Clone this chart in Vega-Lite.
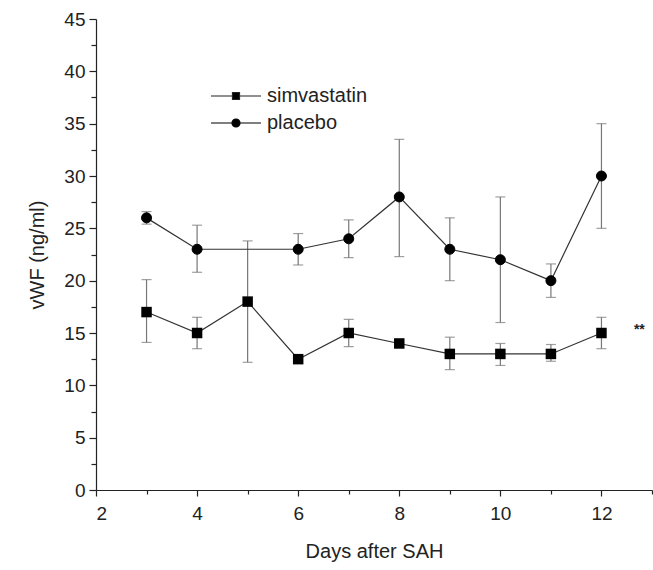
{
  "$schema": "https://vega.github.io/schema/vega-lite/v6.json",
  "autosize": {"type": "none"},
  "width": 556,
  "height": 471,
  "padding": {"left": 96, "top": 19, "right": 1, "bottom": 80},
  "background": "white",
  "config": {
    "view": {"stroke": null},
    "font": "Liberation Sans",
    "axis": {
      "domainColor": "#222",
      "domainWidth": 1.2,
      "tickColor": "#222",
      "tickWidth": 1.2,
      "grid": false,
      "labelFont": "Liberation Sans",
      "titleFont": "Liberation Sans",
      "labelColor": "#222",
      "titleColor": "#222",
      "titleFontWeight": "normal",
      "labelFontSize": 19,
      "titleFontSize": 20
    },
    "legend": {
      "orient": "none",
      "title": null,
      "padding": 0,
      "symbolSize": 400,
      "symbolStrokeWidth": 1.2,
      "symbolStrokeColor": "#222",
      "symbolFillColor": "black",
      "labelFont": "Liberation Sans",
      "labelFontSize": 20,
      "labelColor": "#222",
      "labelOffset": 20
    }
  },
  "data": {
    "values": [
      {"series": "simvastatin", "day": 3, "mean": 17, "lo": 14.1, "hi": 20.1},
      {"series": "simvastatin", "day": 4, "mean": 15, "lo": 13.5, "hi": 16.5},
      {"series": "simvastatin", "day": 5, "mean": 18, "lo": 12.2, "hi": 23.8},
      {"series": "simvastatin", "day": 6, "mean": 12.5, "lo": null, "hi": null},
      {"series": "simvastatin", "day": 7, "mean": 15, "lo": 13.7, "hi": 16.3},
      {"series": "simvastatin", "day": 8, "mean": 14, "lo": null, "hi": null},
      {"series": "simvastatin", "day": 9, "mean": 13, "lo": 11.5, "hi": 14.6},
      {"series": "simvastatin", "day": 10, "mean": 13, "lo": 11.9, "hi": 14.0},
      {"series": "simvastatin", "day": 11, "mean": 13, "lo": 12.3, "hi": 13.9},
      {"series": "simvastatin", "day": 12, "mean": 15, "lo": 13.5, "hi": 16.5},
      {"series": "placebo", "day": 3, "mean": 26, "lo": 25.4, "hi": 26.6},
      {"series": "placebo", "day": 4, "mean": 23, "lo": 20.8, "hi": 25.3},
      {"series": "placebo", "day": 6, "mean": 23, "lo": 21.5, "hi": 24.5},
      {"series": "placebo", "day": 7, "mean": 24, "lo": 22.2, "hi": 25.8},
      {"series": "placebo", "day": 8, "mean": 28, "lo": 22.3, "hi": 33.5},
      {"series": "placebo", "day": 9, "mean": 23, "lo": 20, "hi": 26},
      {"series": "placebo", "day": 10, "mean": 22, "lo": 16, "hi": 28},
      {"series": "placebo", "day": 11, "mean": 20, "lo": 18.4, "hi": 21.6},
      {"series": "placebo", "day": 12, "mean": 30, "lo": 25, "hi": 35}
    ]
  },
  "encoding": {
    "x": {
      "field": "day", "type": "quantitative",
      "scale": {"domain": [2, 13], "nice": false, "zero": false},
      "axis": {
        "title": "Days after SAH",
        "values": [2, 3, 4, 5, 6, 7, 8, 9, 10, 11, 12, 13],
        "labelExpr": "datum.value % 2 == 0 ? datum.label : ''",
        "tickSize": {"condition": {"test": "datum.value % 2 == 0", "value": 6}, "value": 4},
        "labelPadding": 8,
        "titlePadding": 18
      }
    },
    "y": {
      "field": "mean", "type": "quantitative",
      "scale": {"domain": [0, 45], "nice": false},
      "axis": {
        "title": "vWF (ng/ml)",
        "values": [0, 2.5, 5, 7.5, 10, 12.5, 15, 17.5, 20, 22.5, 25, 27.5, 30, 32.5, 35, 37.5, 40, 42.5, 45],
        "labelExpr": "datum.value % 5 == 0 ? datum.label : ''",
        "tickSize": {"condition": {"test": "datum.value % 5 == 0", "value": 7}, "value": 5},
        "labelPadding": 4,
        "titlePadding": 16
      }
    }
  },
  "layer": [
    {
      "transform": [{"filter": "isValid(datum.lo)"}],
      "mark": {"type": "rule", "color": "#777", "strokeWidth": 1.2},
      "encoding": {
        "y": {"field": "lo", "type": "quantitative"},
        "y2": {"field": "hi"}
      }
    },
    {
      "transform": [{"filter": "isValid(datum.lo)"}],
      "mark": {"type": "tick", "orient": "horizontal", "color": "#777", "size": 10, "thickness": 1.2},
      "encoding": {"y": {"field": "lo", "type": "quantitative"}}
    },
    {
      "transform": [{"filter": "isValid(datum.lo)"}],
      "mark": {"type": "tick", "orient": "horizontal", "color": "#777", "size": 10, "thickness": 1.2},
      "encoding": {"y": {"field": "hi", "type": "quantitative"}}
    },
    {
      "mark": {"type": "line", "color": "#333", "strokeWidth": 1.2},
      "encoding": {
        "detail": {"field": "series"}
      }
    },
    {
      "transform": [{"filter": "datum.series === 'simvastatin'"}],
      "mark": {"type": "point", "shape": "square", "filled": true, "opacity": 1, "size": 110},
      "encoding": {
        "fill": {
          "field": "series", "type": "nominal",
          "scale": {"domain": ["simvastatin"], "range": ["black"]},
          "legend": {
            "legendX": 129,
            "legendY": 66,
            "symbolType": "M-2.5,0H-0.35M0.35,0H2.5M-0.35,-0.35H0.35V0.35H-0.35Z"
          }
        }
      }
    },
    {
      "transform": [{"filter": "datum.series === 'placebo'"}],
      "mark": {"type": "point", "shape": "circle", "filled": true, "opacity": 1, "size": 100, "strokeWidth": 1, "fill": "black"},
      "encoding": {
        "stroke": {
          "field": "series", "type": "nominal",
          "scale": {"domain": ["placebo"], "range": ["black"]},
          "legend": {
            "legendX": 129,
            "legendY": 93,
            "symbolType": "M-2.5,0H-0.4M0.4,0H2.5M-0.4,0A0.4,0.4 0 1,0 0.4,0A0.4,0.4 0 1,0 -0.4,0Z"
          }
        }
      }
    },
    {
      "data": {"values": [{"day": 12.75, "mean": 15.3, "label": "**"}]},
      "mark": {"type": "text", "fontSize": 14, "fontWeight": "bold", "color": "#222", "baseline": "middle"},
      "encoding": {
        "text": {"field": "label"}
      }
    }
  ]
}
